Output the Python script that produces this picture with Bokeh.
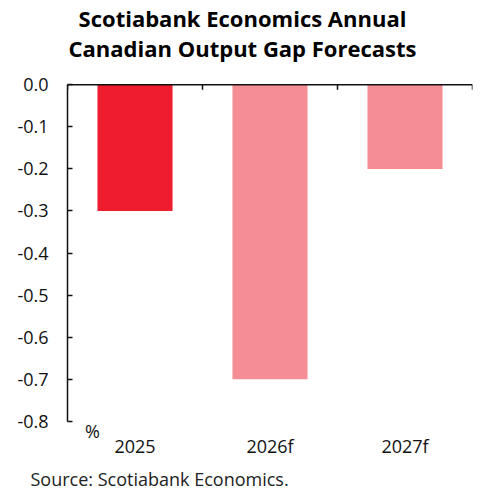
from bokeh.plotting import figure
from bokeh.models import (Range1d, FixedTicker, Title, Span,
                          PrintfTickFormatter, ColumnDataSource, Label)
from bokeh.embed import file_html
from bokeh.resources import INLINE

categories = ["2025", "2026f", "2027f"]
values = [-0.3, -0.7, -0.2]
colors = ["#ED1C2E", "#F58D95", "#F58D95"]
y_ticks = [0.0, -0.1, -0.2, -0.3, -0.4, -0.5, -0.6, -0.7, -0.8]
title_lines = ["Scotiabank Economics Annual", "Canadian Output Gap Forecasts"]
source_text = "Source: Scotiabank Economics."
unit_text = "%"

FONT = "Open Sans"

n = len(categories)
centers = [i + 0.5 for i in range(n)]
y_min, y_max = -0.8, 0.0

# layout constants (pixels)
W, H = 484, 495
LEFT, RIGHT = 67, 12
ZERO_PX = 84          # pixel row of the zero line
PX_PER_UNIT = 420.0   # 42 px per 0.1
FRAME_H = 441
y_hi = y_max + ZERO_PX / PX_PER_UNIT
y_lo = y_max - (FRAME_H - ZERO_PX) / PX_PER_UNIT
px_per_cat = (W - LEFT - RIGHT) / n

p = figure(width=W, height=H, output_backend="svg", toolbar_location=None, title=None,
           x_range=Range1d(0, n), y_range=Range1d(y_lo, y_hi),
           min_border_left=LEFT, min_border_right=RIGHT, min_border_top=0,
           min_border_bottom=0, x_axis_location="below")
p.outline_line_color = None
p.xgrid.grid_line_color = None
p.ygrid.grid_line_color = None
p.background_fill_color = "white"
p.border_fill_color = "white"

src = ColumnDataSource(dict(x=centers, top=[0.0] * n, bottom=values, color=colors))
p.vbar(x="x", top="top", bottom="bottom", width=0.556, fill_color="color",
       line_color=None, source=src)

# zero line with ticks at category boundaries
p.add_layout(Span(location=0.0, dimension="width", line_color="#111111", line_width=1.5))
bounds_x = list(range(n + 1))
tick_len = 5 / PX_PER_UNIT
p.segment(x0=bounds_x, y0=[0.0] * (n + 1), x1=bounds_x, y1=[-tick_len] * (n + 1),
          line_color="#111111", line_width=1.5)

# bottom axis: category labels only
xa = p.xaxis[0]
xa.ticker = FixedTicker(ticks=centers)
xa.major_label_overrides = {c: lab for c, lab in zip(centers, categories)}
xa.axis_line_color = None
xa.major_tick_line_color = None
xa.minor_tick_line_color = None
xa.major_tick_in = 0
xa.major_tick_out = 0
xa.major_label_text_font = FONT
xa.major_label_text_font_size = "18px"
xa.major_label_text_color = "#111111"
xa.major_label_standoff = -9

ya = p.yaxis[0]
ya.ticker = FixedTicker(ticks=y_ticks)
ya.bounds = (y_min, y_max)
ya.formatter = PrintfTickFormatter(format="%.1f")
ya.major_tick_in = 5
ya.major_tick_out = 0
ya.minor_tick_line_color = None
ya.axis_line_width = 1.5
ya.major_tick_line_width = 1.5
ya.axis_line_color = "#111111"
ya.major_tick_line_color = "#111111"
ya.major_label_text_font = FONT
ya.major_label_text_font_size = "18px"
ya.major_label_text_color = "#111111"
ya.major_label_standoff = 19

# title lines, centred on the canvas
title_x = (W / 2 - LEFT) / px_per_cat
for line, row_px in zip(title_lines, [17, 47]):
    p.add_layout(Label(x=title_x, y=y_hi - row_px / PX_PER_UNIT, text=line,
                       text_font=FONT, text_font_size="22px", text_font_style="bold",
                       text_color="#000000", text_align="center", text_baseline="middle"))

p.add_layout(Title(text=source_text, align="left", text_font=FONT, text_font_size="18px",
                   text_font_style="normal", text_color="#222222", offset=-37,
                   standoff=9), "below")

p.add_layout(Label(x=0.13, y=y_min, text=unit_text, text_font=FONT, text_font_size="18px",
                   text_color="#111111", text_baseline="top", y_offset=2))

open("out.html", "w").write(file_html(p, INLINE))
